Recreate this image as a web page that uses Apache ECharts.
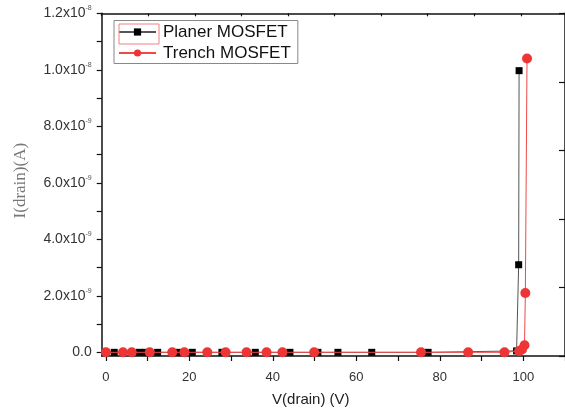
<!DOCTYPE html>
<html>
<head>
<meta charset="utf-8">
<script src="https://cdn.jsdelivr.net/npm/echarts@6/dist/echarts.min.js"></script>
<style>
html,body{margin:0;padding:0;background:#fff;}
#chart{width:565px;height:412px;}
</style>
</head>
<body>
<div id="chart"></div>
<script>
// ---- data (V in volts, I in amperes) ----
const planerV = [0, 2, 8, 9.5, 12.4, 17.1, 20.7, 27.8, 35.8, 44.1, 50.8, 55.6, 63.7, 77.2, 98.4, 98.9, 99.0];
const planerI = [0, 0, 0, 0, 0, 0, 0, 0, 0, 0, 0, 0, 0, 0, 0.05e-9, 3.1e-9, 9.97e-9];
const trenchV = [0, 4.1, 6.2, 10.5, 15.9, 18.8, 24.3, 28.7, 33.7, 38.5, 42.3, 49.9, 75.5, 86.8, 95.5, 99.0, 99.7, 100.3, 100.5, 100.9];
const trenchI = [0, 0, 0, 0, 0, 0, 0, 0, 0, 0, 0, 0, 0, 0, 0, 0.05e-9, 0.1e-9, 0.25e-9, 2.1e-9, 10.4e-9];

const seriesNames = ['Planer MOSFET', 'Trench MOSFET'];
const xTickValues = [0, 10, 20, 30, 40, 50, 60, 70, 80, 90, 100, 110];
const xLabelValues = [0, 20, 40, 60, 80, 100];
const yTickValues = [0, 1e-9, 2e-9, 3e-9, 4e-9, 5e-9, 6e-9, 7e-9, 8e-9, 9e-9, 1e-8, 1.1e-8, 1.2e-8];
const yLabelValues = [0, 2e-9, 4e-9, 6e-9, 8e-9, 1e-8, 1.2e-8];
const yLabelMantissa = ['0.0', '2.0x10', '4.0x10', '6.0x10', '8.0x10', '1.0x10', '1.2x10'];
const yLabelExponent = ['', '-9', '-9', '-9', '-9', '-8', '-8'];

const planerData = planerV.map((v, i) => [v, planerI[i]]);
const trenchData = trenchV.map((v, i) => [v, trenchI[i]]);

const chart = echarts.init(document.getElementById('chart'), null, {renderer: 'canvas'});
const axisLine = {show: true, onZero: false, lineStyle: {color: '#111', width: 1.5}};

chart.setOption({
  animation: false,
  backgroundColor: '#fff',
  grid: {left: 101.7, top: 13.3, right: -4.5, bottom: 54.7},
  legend: {
    orient: 'vertical',
    left: 114, top: 20.5,
    data: seriesNames,
    itemWidth: 37, itemHeight: 9, itemGap: 4,
    padding: [3, 7, 2, 4],
    borderColor: '#888', borderWidth: 1,
    textStyle: {fontFamily: 'Liberation Sans, Arial, sans-serif', fontSize: 17, color: '#111', padding: [0,0,0,2]}
  },
  graphic: [{
    type: 'rect', left: 116.5, top: 21.5, shape: {width: 40, height: 20},
    style: {fill: 'none', stroke: '#f08080', lineWidth: 1}, z: 100
  }],
  xAxis: [{
    type: 'value', position: 'bottom', min: -1, max: 110,
    name: 'V(drain) (V)', nameLocation: 'middle', nameGap: 36,
    nameTextStyle: {fontFamily: 'Liberation Sans, Arial, sans-serif', fontSize: 15, color: '#222', padding: [0, 45, 0, 0]},
    axisLine: axisLine,
    axisTick: {show: true, inside: false, length: 5, customValues: xTickValues, lineStyle: {color: '#111', width: 1.2}},
    axisLabel: {show: true, customValues: xLabelValues, margin: 15, fontFamily: 'Liberation Sans, Arial, sans-serif', fontSize: 13, color: '#333'},
    splitLine: {show: false}
  }, {
    type: 'value', position: 'top', min: 0, max: 99.5, interval: 10,
    axisLine: axisLine,
    axisTick: {show: true, inside: true, length: 3, lineStyle: {color: '#111', width: 1.2}},
    axisLabel: {show: false},
    splitLine: {show: false}
  }],
  yAxis: [{
    type: 'value', position: 'left', min: -1.3e-10, max: 1.2e-8,
    name: 'I(drain)(A)', nameLocation: 'middle', nameGap: 73,
    nameTextStyle: {fontFamily: 'Liberation Serif, Times New Roman, serif', fontSize: 17, color: '#777', padding: [0, 0, 0, 8]},
    axisLine: axisLine,
    axisTick: {show: true, inside: false, length: 5, customValues: yTickValues, lineStyle: {color: '#111', width: 1.2}},
    axisLabel: {
      show: true, customValues: yLabelValues, margin: 10,
      formatter: function (val) {
        let idx = -1;
        for (let i = 0; i < yLabelValues.length; i++) {
          if (Math.abs(yLabelValues[i] - val) < 1e-13) idx = i;
        }
        if (idx < 0) return '';
        if (!yLabelExponent[idx]) return '{m|' + yLabelMantissa[idx] + '}';
        return '{m|' + yLabelMantissa[idx] + '}{s|' + yLabelExponent[idx] + '}';
      },
      rich: {
        m: {fontFamily: 'Liberation Sans, Arial, sans-serif', fontSize: 14, color: '#333'},
        s: {fontFamily: 'Liberation Sans, Arial, sans-serif', fontSize: 7, color: '#555', padding: [0, 0, 10, 0]}
      }
    },
    splitLine: {show: false}
  }, {
    type: 'value', position: 'right', min: 0, max: 5, interval: 1,
    axisLine: axisLine,
    axisTick: {show: true, inside: true, length: 6, lineStyle: {color: '#111', width: 1.2}},
    axisLabel: {show: false},
    splitLine: {show: false}
  }],
  series: [{
    name: seriesNames[0], type: 'line', xAxisIndex: 0, yAxisIndex: 0,
    data: planerData,
    symbol: 'rect', symbolSize: 7,
    itemStyle: {color: '#000'},
    lineStyle: {color: '#555', width: 1},
    z: 2
  }, {
    name: seriesNames[1], type: 'line', xAxisIndex: 0, yAxisIndex: 0,
    data: trenchData,
    symbol: 'circle', symbolSize: 10,
    itemStyle: {color: '#ee3535'},
    lineStyle: {color: '#f04848', width: 1},
    z: 3
  }]
});
</script>
</body>
</html>
